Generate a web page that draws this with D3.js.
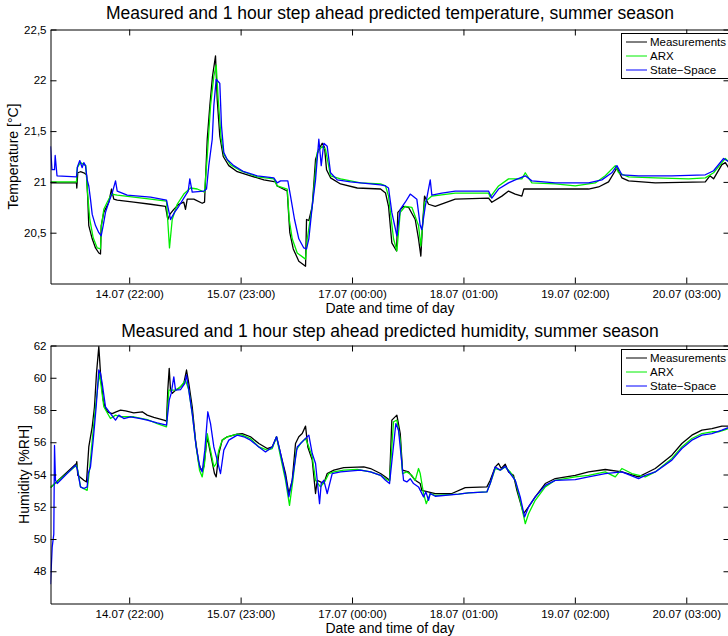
<!DOCTYPE html>
<html><head><meta charset="utf-8">
<script src="https://cdn.jsdelivr.net/npm/d3@7/dist/d3.min.js"></script>
<style>
body{margin:0;background:#fff;}
svg{display:block;font-family:"Liberation Sans",Arial,Helvetica,sans-serif;}
</style></head><body>
<svg id="chart" width="728" height="636"></svg>
<script>
// ---- data (time in hours since 14.07 00:00) ----
const xTickHours = [22, 47, 72, 97, 122, 147];
const xTickLabels = ["14.07 (22:00)", "15.07 (23:00)", "17.07 (00:00)", "18.07 (01:00)", "19.07 (02:00)", "20.07 (03:00)"];
const tempTicks = [20.5, 21, 21.5, 22, 22.5];
const humTicks = [48, 50, 52, 54, 56, 58, 60, 62];
const seriesNames = ["Measurements", "ARX", "State\u2212Space"];
const seriesColors = ["#000000", "#00ee00", "#0000ff"];

const tempMeasured = [[4.34,20.99],[10.17,20.99],[10.24,20.94],[10.46,21.09],[11.07,21.10],[11.81,21.09],[12.42,21.07],[12.71,20.83],[12.93,20.57],[13.70,20.44],[14.44,20.35],[15.18,20.30],[15.56,20.29],[15.72,20.57],[16.30,20.70],[17.42,20.80],[18.03,20.93],[18.54,20.83],[19.31,20.82],[23.03,20.80],[26.78,20.78],[30.15,20.76],[30.66,20.63],[31.11,20.68],[32.01,20.73],[33.13,20.78],[34.25,20.80],[34.63,20.73],[35.02,20.83],[36.50,20.83],[38.38,20.79],[38.90,20.80],[39.51,21.42],[40.09,21.75],[40.69,22.04],[41.37,22.24],[41.75,21.81],[42.33,21.45],[43.10,21.25],[44.35,21.16],[46.24,21.10],[49.22,21.06],[52.21,21.02],[54.83,21.00],[55.21,20.96],[57.46,20.91],[57.75,20.70],[58.04,20.50],[58.81,20.34],[60.06,20.22],[61.57,20.17],[61.79,20.63],[62.31,20.62],[63.07,20.76],[63.81,21.22],[64.55,21.32],[65.31,21.38],[65.83,21.34],[66.28,21.12],[67.18,21.04],[69.42,20.98],[73.17,20.94],[78.40,20.93],[79.52,20.89],[80.19,20.76],[80.93,20.40],[81.99,20.32],[82.28,20.70],[83.56,20.76],[84.68,20.75],[86.18,20.63],[86.92,20.44],[87.44,20.27],[87.82,20.57],[88.27,20.86],[89.17,20.78],[90.67,20.76],[95.16,20.83],[102.63,20.84],[103.37,20.80],[105.62,20.86],[107.12,20.91],[108.62,20.88],[110.11,20.86],[110.56,20.93],[117.60,20.93],[125.08,20.93],[127.32,20.95],[129.56,21.00],[131.07,21.11],[131.43,21.14],[132.55,21.04],[134.05,21.01],[140.04,20.99],[151.27,21.00],[152.30,21.06],[153.13,21.03],[154.99,21.17],[155.76,21.19],[156.50,21.14]];

const tempARX = [[4.34,21.00],[10.17,21.00],[10.33,21.14],[11.07,21.19],[11.81,21.17],[12.26,21.16],[12.71,20.86],[13.16,20.63],[13.92,20.45],[14.82,20.35],[15.56,20.34],[15.78,20.57],[16.30,20.73],[17.06,20.80],[18.03,20.88],[19.31,20.87],[23.03,20.85],[26.78,20.83],[30.37,20.81],[31.04,20.35],[31.65,20.63],[32.77,20.78],[34.25,20.88],[35.76,20.94],[37.26,20.93],[38.90,20.90],[39.51,21.25],[40.25,21.75],[40.99,22.04],[41.52,22.15],[41.97,21.81],[42.65,21.42],[43.23,21.27],[44.73,21.17],[46.98,21.11],[50.73,21.05],[54.45,21.03],[55.21,20.96],[57.46,20.93],[57.91,20.63],[58.58,20.44],[59.70,20.30],[61.57,20.24],[61.95,20.44],[63.07,20.76],[64.19,21.29],[65.31,21.35],[66.05,21.32],[67.18,21.06],[69.42,21.03],[73.91,20.99],[78.40,20.98],[79.52,20.96],[80.19,20.86],[81.31,20.44],[82.06,20.32],[82.82,20.70],[83.94,20.76],[85.42,20.75],[86.92,20.57],[87.44,20.37],[88.27,20.80],[89.91,20.86],[95.16,20.89],[102.63,20.89],[103.01,20.85],[104.88,20.96],[107.12,21.03],[110.11,21.03],[110.87,21.09],[112.35,20.99],[117.60,20.98],[122.09,20.96],[126.58,20.99],[128.82,21.06],[131.07,21.16],[131.81,21.09],[134.05,21.05],[140.04,21.04],[147.51,21.03],[151.27,21.04],[153.13,21.09],[154.99,21.19],[155.76,21.23],[156.50,21.20]];

const tempSS = [[4.34,21.35],[4.67,21.12],[5.24,21.12],[5.39,21.26],[5.80,21.06],[10.17,21.05],[10.40,21.15],[10.91,21.21],[11.45,21.14],[11.81,21.19],[12.19,21.16],[12.57,21.02],[12.93,20.96],[13.31,20.83],[13.70,20.68],[14.44,20.57],[15.18,20.50],[15.72,20.47],[16.16,20.57],[16.68,20.70],[17.42,20.80],[18.18,20.89],[18.93,21.01],[19.31,20.91],[21.55,20.87],[26.78,20.85],[30.37,20.82],[31.27,20.63],[32.17,20.70],[33.13,20.76],[34.25,20.84],[35.24,20.91],[35.60,21.03],[36.14,20.90],[38.74,20.91],[39.35,20.93],[39.86,21.16],[40.63,21.42],[40.99,21.75],[41.52,22.01],[42.33,21.97],[42.71,21.55],[43.23,21.29],[43.99,21.22],[45.47,21.16],[47.72,21.10],[50.73,21.06],[54.45,21.04],[55.21,20.99],[55.96,21.01],[57.59,21.01],[58.20,20.86],[59.10,20.63],[60.06,20.44],[61.18,20.35],[61.79,20.34],[62.31,20.44],[63.07,20.76],[63.81,21.02],[64.55,21.42],[65.09,21.16],[65.67,21.38],[66.43,21.35],[67.18,21.09],[68.68,21.02],[71.67,21.00],[78.40,20.97],[79.52,20.96],[80.19,20.94],[80.93,20.70],[82.06,20.47],[82.82,20.73],[83.94,20.80],[85.06,20.88],[86.54,20.83],[87.30,20.57],[87.66,20.53],[88.43,20.76],[89.55,21.02],[89.91,20.87],[92.16,20.89],[95.16,20.91],[102.63,20.91],[103.37,20.84],[104.88,20.93],[107.12,20.99],[108.62,21.02],[110.87,21.06],[112.35,21.01],[117.60,20.99],[125.08,20.99],[128.06,21.02],[130.30,21.09],[131.43,21.16],[132.55,21.07],[136.30,21.06],[143.77,21.06],[151.27,21.07],[153.13,21.11],[155.37,21.23],[156.50,21.20]];

const humMeasured = [[4.34,53.20],[10.17,54.68],[10.24,54.80],[10.46,53.95],[11.81,53.64],[12.42,53.54],[12.93,55.71],[13.70,56.96],[14.21,58.20],[14.66,60.27],[15.18,61.93],[15.56,60.27],[16.16,58.61],[16.68,58.10],[17.20,57.87],[18.18,57.78],[18.93,57.87],[20.05,57.99],[21.17,57.95],[23.03,57.82],[24.92,57.89],[26.04,57.68],[27.52,57.54],[29.77,57.37],[30.37,57.31],[30.66,59.23],[30.98,60.58],[31.27,59.23],[31.65,59.03],[32.39,59.23],[33.13,59.34],[34.25,59.65],[34.86,60.48],[35.37,59.65],[36.14,58.20],[36.88,56.13],[37.62,54.68],[38.16,54.27],[38.74,54.47],[39.51,56.34],[40.25,55.30],[41.14,54.06],[41.52,53.85],[42.11,55.30],[42.87,56.13],[43.99,56.34],[46.24,56.50],[47.36,56.54],[49.22,56.34],[51.09,55.92],[52.97,55.61],[54.09,55.71],[55.06,56.34],[55.96,55.30],[57.08,54.06],[57.82,52.82],[58.58,53.64],[59.32,55.92],[60.06,56.34],[60.82,56.54],[61.57,57.00],[62.08,55.71],[63.07,54.89],[63.81,52.82],[64.19,53.64],[65.67,53.44],[66.43,54.06],[67.92,54.27],[70.16,54.43],[74.65,54.47],[76.15,54.37],[78.40,54.06],[79.52,53.85],[80.42,53.64],[80.93,57.37],[82.06,57.68],[82.82,56.54],[83.33,54.27],[84.68,54.16],[86.18,53.64],[87.30,53.44],[87.66,53.02],[90.67,52.82],[94.40,52.82],[97.41,53.19],[102.26,53.23],[103.01,53.64],[104.14,54.47],[104.88,54.68],[105.48,54.37],[106.38,54.64],[107.12,54.16],[108.24,53.95],[108.99,53.02],[110.49,51.57],[111.61,51.99],[113.11,52.61],[115.36,53.44],[117.60,53.75],[122.09,53.95],[125.08,54.16],[128.82,54.31],[132.55,54.16],[136.30,53.85],[137.80,54.06],[140.04,54.37],[143.77,55.20],[146.01,55.92],[148.26,56.44],[150.50,56.75],[152.75,56.85],[154.99,57.00],[156.50,57.00]];

const humARX = [[4.34,53.20],[10.17,54.58],[10.46,54.27],[11.07,53.23],[12.57,53.02],[13.16,54.47],[13.92,56.75],[14.44,58.20],[15.04,59.65],[15.33,60.27],[15.72,59.44],[16.30,58.20],[17.80,57.47],[18.93,57.68],[20.05,57.58],[23.03,57.58],[26.04,57.41],[28.28,57.16],[30.37,56.96],[30.89,59.23],[32.39,59.23],[33.51,59.44],[34.63,59.85],[35.37,59.23],[36.14,57.78],[37.03,55.71],[37.78,54.27],[38.38,53.85],[38.90,54.68],[39.51,56.54],[40.09,55.71],[40.99,54.47],[41.52,54.68],[42.11,55.51],[42.87,56.13],[43.99,56.34],[46.24,56.50],[47.36,56.44],[49.22,56.23],[51.09,55.71],[52.97,55.51],[54.09,55.61],[55.06,56.34],[55.96,55.09],[57.08,53.64],[57.97,52.09],[58.73,53.64],[59.48,55.51],[60.44,55.92],[61.57,56.23],[62.31,55.71],[63.07,55.09],[63.81,53.64],[64.93,53.23],[66.05,53.64],[66.80,54.06],[67.92,54.16],[70.16,54.27],[73.17,54.31],[76.15,54.16],[78.40,53.95],[79.52,53.74],[80.42,53.60],[81.31,57.27],[82.06,57.37],[82.82,56.13],[83.33,54.06],[84.30,54.16],[85.42,53.95],[86.18,53.64],[86.92,54.37],[87.30,54.06],[88.05,52.82],[88.65,52.19],[89.55,52.82],[90.67,52.71],[95.90,52.78],[98.14,52.86],[102.26,52.92],[103.01,53.44],[104.14,54.37],[105.26,54.27],[106.38,54.47],[107.50,54.16],[108.62,53.64],[109.74,52.40],[110.87,50.95],[111.61,51.57],[113.11,52.40],[115.36,53.23],[117.60,53.64],[122.09,53.85],[125.08,53.95],[128.82,54.16],[131.07,53.85],[132.55,54.37],[134.79,54.06],[137.80,53.85],[140.04,54.16],[143.77,54.99],[146.01,55.71],[148.26,56.23],[150.50,56.54],[152.75,56.65],[154.24,56.65],[156.50,56.85]];

const humSS = [[4.34,47.20],[4.72,49.50],[5.08,50.30],[5.24,55.80],[5.46,53.64],[5.84,53.44],[9.95,54.58],[10.33,54.37],[11.07,53.23],[11.81,53.13],[12.57,53.23],[12.80,54.06],[13.31,54.47],[13.92,56.13],[14.59,58.20],[15.18,60.48],[15.56,60.27],[15.94,59.65],[16.68,58.20],[17.80,57.78],[18.93,57.37],[19.67,57.68],[20.79,57.47],[22.29,57.58],[24.53,57.47],[26.04,57.37],[28.28,57.20],[30.37,57.06],[30.98,58.61],[31.42,59.03],[32.01,60.06],[32.39,59.23],[33.51,59.27],[34.48,59.65],[34.86,60.17],[35.37,59.23],[36.14,57.78],[37.03,55.71],[37.85,54.47],[38.38,54.16],[38.97,55.51],[39.64,57.89],[40.25,57.16],[40.99,55.71],[41.75,54.89],[42.49,54.06],[43.23,55.51],[44.35,56.13],[46.24,56.44],[47.72,56.34],[49.22,56.13],[51.09,55.71],[52.59,55.40],[54.09,55.71],[55.06,56.34],[55.80,55.51],[57.08,53.85],[57.82,52.61],[58.58,53.64],[59.70,55.71],[61.18,56.13],[62.31,56.44],[63.07,55.30],[63.81,54.68],[64.19,53.64],[64.71,52.19],[65.09,53.44],[65.67,53.64],[66.43,52.82],[67.55,54.06],[69.42,54.16],[73.91,54.27],[76.15,54.16],[78.40,53.95],[79.52,53.64],[80.42,53.44],[81.83,57.16],[82.43,56.75],[83.56,53.64],[84.30,53.54],[85.06,53.74],[85.80,53.44],[86.92,53.23],[88.05,52.61],[88.57,52.92],[89.17,52.40],[89.55,52.82],[90.67,52.65],[95.90,52.78],[98.14,52.86],[102.26,52.92],[103.01,53.44],[104.14,54.47],[105.26,54.27],[106.38,54.51],[107.50,54.06],[108.62,53.64],[109.74,52.61],[110.71,51.37],[111.61,51.99],[113.11,52.61],[115.36,53.33],[117.60,53.64],[122.09,53.68],[125.08,53.85],[128.82,54.06],[132.55,54.16],[136.30,53.74],[137.80,53.95],[140.04,54.16],[143.77,54.89],[146.01,55.61],[148.26,56.13],[150.50,56.44],[152.75,56.54],[154.99,56.75],[156.50,56.91]];

// ---- drawing ----
const svg = d3.select("#chart");
const xDomain = [4.34, 156.7];
const fmtComma = v => String(v).replace(".", ",");

const panels = [
  {title: "Measured and 1 hour step ahead predicted temperature, summer season",
   ylabel: "Temperature [\u00B0C]", top: 29.5, bottom: 283.5, yDomain: [20, 22.5],
   ticks: tempTicks, series: [tempMeasured, tempARX, tempSS], ylabelX: 18, titleY: 19},
  {title: "Measured and 1 hour step ahead predicted humidity, summer season",
   ylabel: "Humidity [%RH]", top: 345.5, bottom: 603.5, yDomain: [46, 62],
   ticks: humTicks, series: [humMeasured, humARX, humSS], ylabelX: 29, titleY: 336.5}
];
const left = 50.5, right = 729.5;

panels.forEach((p, i) => {
  const x = d3.scaleLinear().domain(xDomain).range([left, right]);
  const y = d3.scaleLinear().domain(p.yDomain).range([p.bottom, p.top]);
  const g = svg.append("g");

  const clipId = "clip" + i;
  svg.append("clipPath").attr("id", clipId).append("rect")
    .attr("x", left).attr("y", p.top).attr("width", right - left).attr("height", p.bottom - p.top);

  const line = d3.line().x(d => x(d[0])).y(d => y(d[1]));
  p.series.forEach((s, k) => {
    g.append("path").datum(s).attr("clip-path", `url(#${clipId})`)
      .attr("d", line).attr("fill", "none")
      .attr("stroke", seriesColors[k]).attr("stroke-width", 1.3)
      .attr("stroke-linejoin", "round");
  });

  const tickLen = 6;
  const styleAxis = sel => {
    sel.selectAll(".domain").attr("stroke", "#000").attr("stroke-width", 1);
    sel.selectAll(".tick line").attr("stroke", "#000");
    sel.selectAll("text").attr("fill", "#000").attr("font-size", "11.5px")
      .attr("font-family", '"Liberation Sans",Arial,Helvetica,sans-serif');
  };

  g.append("g").attr("transform", `translate(0,${p.bottom})`)
    .call(d3.axisBottom(x).tickValues(xTickHours).tickFormat((d, j) => xTickLabels[j])
      .tickSizeInner(-tickLen).tickSizeOuter(0).tickPadding(6)).call(styleAxis);
  g.append("g").attr("transform", `translate(0,${p.top})`)
    .call(d3.axisTop(x).tickValues(xTickHours).tickFormat("")
      .tickSizeInner(-tickLen).tickSizeOuter(0)).call(styleAxis);
  g.append("g").attr("transform", `translate(${left},0)`)
    .call(d3.axisLeft(y).tickValues(p.ticks).tickFormat(fmtComma)
      .tickSizeInner(-tickLen).tickSizeOuter(0).tickPadding(4)).call(styleAxis);
  g.append("g").attr("transform", `translate(${right},0)`)
    .call(d3.axisRight(y).tickValues(p.ticks).tickFormat("")
      .tickSizeInner(-tickLen).tickSizeOuter(0)).call(styleAxis);

  // titles & labels
  svg.append("text").attr("x", 390).attr("y", p.titleY).attr("text-anchor", "middle")
    .attr("font-size", "17.5px").attr("fill", "#000").text(p.title);
  svg.append("text").attr("x", 390).attr("y", p.bottom + 29).attr("text-anchor", "middle")
    .attr("font-size", "14px").attr("fill", "#000").text("Date and time of day");
  svg.append("text").attr("transform", `translate(${p.ylabelX},${(p.top + p.bottom) / 2}) rotate(-90)`)
    .attr("text-anchor", "middle").attr("font-size", "14px").attr("fill", "#000").text(p.ylabel);

  // legend
  const lg = svg.append("g").attr("transform", `translate(621.5,${p.top + 4})`);
  lg.append("rect").attr("width", 120).attr("height", 45).attr("fill", "#fff")
    .attr("stroke", "#000").attr("stroke-width", 1);
  seriesNames.forEach((n, k) => {
    const yy = 8.5 + k * 14;
    lg.append("line").attr("x1", 4.5).attr("x2", 25.5).attr("y1", yy).attr("y2", yy)
      .attr("stroke", seriesColors[k]).attr("stroke-width", 1);
    lg.append("text").attr("x", 28.5).attr("y", yy).attr("dy", "0.35em")
      .attr("font-size", "11.5px").attr("fill", "#000").text(n);
  });
});
</script>
</body></html>
